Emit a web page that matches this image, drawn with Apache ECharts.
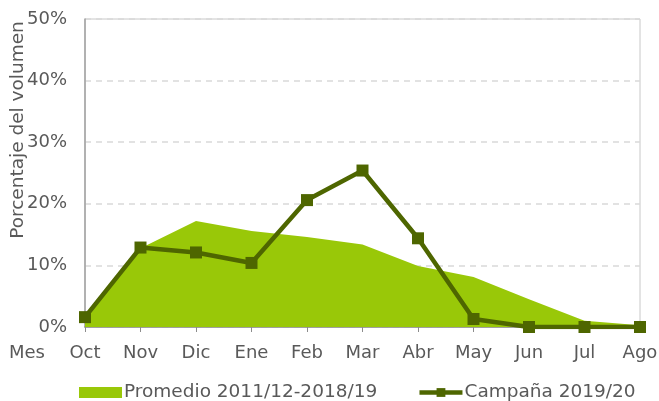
<!DOCTYPE html>
<html><head><meta charset="utf-8">
<script src="https://cdn.jsdelivr.net/npm/echarts@6/dist/echarts.min.js"></script>
<style>html,body{margin:0;padding:0;background:#fff}#c{width:659px;height:401px}</style>
</head><body><div id="c"></div>
<script>
const months = ['Oct','Nov','Dic','Ene','Feb','Mar','Abr','May','Jun','Jul','Ago'];
const promedio = [1.5, 12.8, 17.2, 15.6, 14.6, 13.4, 9.9, 8.1, 4.5, 1.0, 0.3];
const campana = [1.6, 12.9, 12.1, 10.4, 20.6, 25.4, 14.4, 1.3, 0, 0, 0];
const yTicks = [0, 10, 20, 30, 40, 50];
const nameArea = 'Promedio 2011/12-2018/19';
const nameLine = 'Campaña 2019/20';
const yName = 'Porcentaje del volumen';
const xName = 'Mes';
const font = 'DejaVu Sans';
const txt = '#595959';
const chart = echarts.init(document.getElementById('c'));
chart.setOption({
  animation: false,
  textStyle: {fontFamily: font},
  grid: {left: 85, right: 19, top: 19, bottom: 74, show: true, borderColor: '#C8C8C8', borderWidth: 1,
         containLabel: false, outerBoundsMode: 'none'},
  legend: {
    top: 378, left: 74, itemGap: 40, itemWidth: 43, itemHeight: 11,
    textStyle: {fontFamily: font, fontSize: 18.5, color: txt, padding: [0, 0, 0, -3]},
    data: [
      {name: nameArea, icon: 'rect'},
      {name: nameLine, lineStyle: {width: 4.5}}
    ]
  },
  graphic: [
    {type: 'text', left: 9, top: 344, style: {text: xName, font: '18px ' + font, fill: txt}},
    {type: 'text', x: 18, y: 130, rotation: Math.PI / 2,
     style: {text: yName, font: '18.5px ' + font, fill: txt, align: 'center', verticalAlign: 'middle'}}
  ],
  xAxis: {
    type: 'category', data: months, boundaryGap: false,
    axisLine: {lineStyle: {color: '#8C8C8C', width: 1.5}},
    axisTick: {show: true, length: 5, lineStyle: {color: '#8C8C8C'}},
    axisLabel: {color: txt, fontSize: 18, margin: 17, fontFamily: font},
    splitLine: {show: false}
  },
  yAxis: {
    type: 'value', min: yTicks[0], max: yTicks[yTicks.length - 1], interval: 10,
    axisLine: {show: true, lineStyle: {color: '#A0A0A0', width: 1.5}},
    axisTick: {show: false},
    axisLabel: {color: txt, fontSize: 18, margin: 18, formatter: '{value}%', fontFamily: font},
    splitLine: {lineStyle: {color: '#D9D9D9', type: [6, 5], width: 1.5}}
  },
  series: [
    {name: nameArea, type: 'line', data: promedio, symbol: 'none', lineStyle: {width: 0},
     itemStyle: {color: '#99C808'}, areaStyle: {color: '#99C808', opacity: 1}, z: 1},
    {name: nameLine, type: 'line', data: campana, symbol: 'rect', symbolSize: 12,
     lineStyle: {width: 4.5, color: '#4E6600'}, itemStyle: {color: '#4E6600'}, z: 3}
  ]
});
</script></body></html>
